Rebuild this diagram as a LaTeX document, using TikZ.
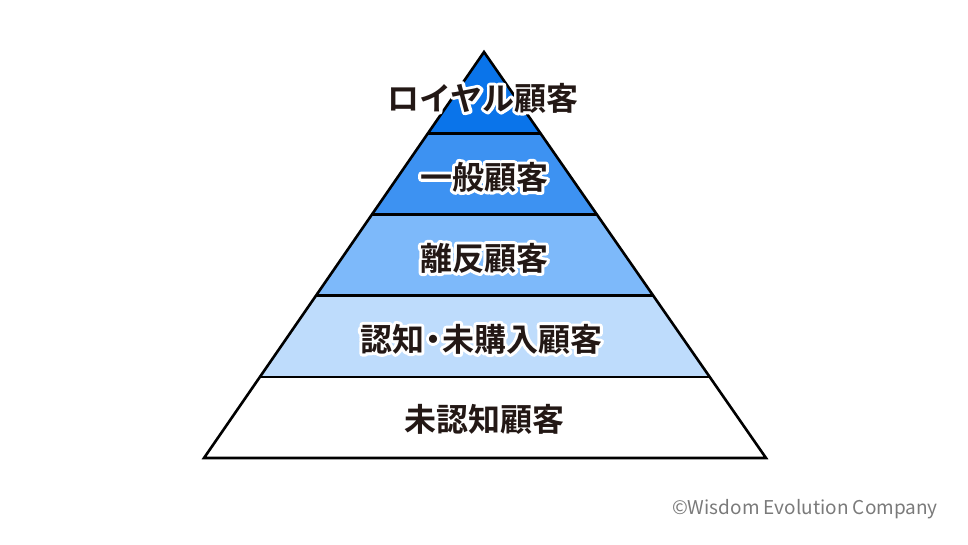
\documentclass[tikz,border=0pt]{standalone}
\usepackage{fontspec}
\newfontfamily\cjkb{Noto Sans CJK JP Bold}
\newfontfamily\cjkr{Noto Sans CJK JP}
\usetikzlibrary{calc}
\definecolor{ink}{HTML}{231815}
\definecolor{tierA}{HTML}{0A74EA}
\definecolor{tierB}{HTML}{3D92F2}
\definecolor{tierC}{HTML}{7DB9FA}
\definecolor{tierD}{HTML}{BEDCFC}
\definecolor{credit}{HTML}{7A7A7A}
\tikzset{
  lbl/.style={font=\cjkb\fontsize{32}{36}\selectfont, text=ink, inner sep=0pt},
  edge/.style={line width=2.6pt, line join=miter}
}
% white outline behind a label, then the label itself
\newcommand\tierlabel[3]{%
  \node[lbl, text=white] at (#2)
    {\special{pdf:literal direct 1 Tr 6 w 1 j}#3\special{pdf:literal direct 0 Tr}};
  \node[lbl] (#1) at (#2) {#3};
}
\begin{document}
\begin{tikzpicture}[x=1pt,y=-1pt]
\useasboundingbox (0,0) rectangle (968,544);
\coordinate (T) at (484,52);
\coordinate (L) at (204,458);
\coordinate (R) at (766,458);
\foreach \i in {1,...,4} {
  \coordinate (L\i) at ($(T)!\i/5!(L)$);
  \coordinate (R\i) at ($(T)!\i/5!(R)$);
}
% tiers
\fill[tierA] (T) -- (L1) -- (R1) -- cycle;
\fill[tierB] (L1) -- (L2) -- (R2) -- (R1) -- cycle;
\fill[tierC] (L2) -- (L3) -- (R3) -- (R2) -- cycle;
\fill[tierD] (L3) -- (L4) -- (R4) -- (R3) -- cycle;
\fill[white] (L4) -- (L) -- (R) -- (R4) -- cycle;
\draw[edge] (T) -- (L) -- (R) -- cycle;
\foreach \i in {1,...,4}
  \draw[edge] (L\i) -- (R\i);
% labels
\tierlabel{royal}{483,98}{ロイヤル顧客}
\tierlabel{general}{484,177}{一般顧客}
\tierlabel{lapsed}{484,258}{離反顧客}
\tierlabel{aware}{481,339}{認知\kern-7pt・\kern-7pt未購入顧客}
\tierlabel{unaware}{484,419}{未認知顧客}
\node[font=\cjkr\fontsize{19}{22}\selectfont, text=credit, anchor=east, inner sep=0pt] (copy) at (938,509) {©Wisdom Evolution Company};
\end{tikzpicture}
\end{document}
